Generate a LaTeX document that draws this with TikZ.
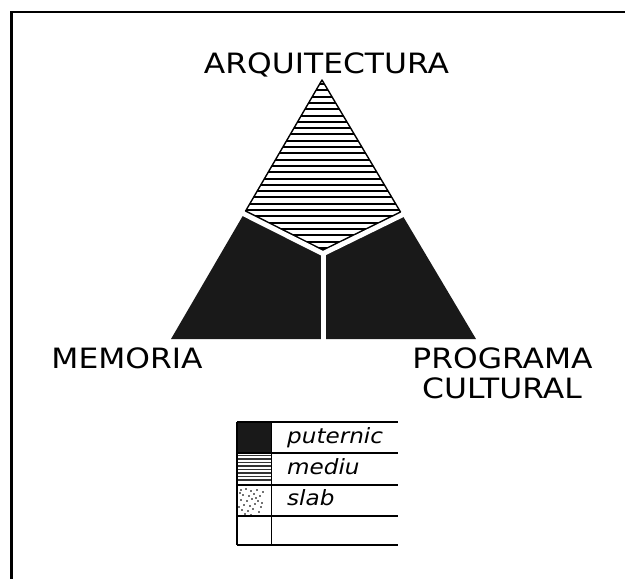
\documentclass[tikz,border=0pt]{standalone}
\usepackage{fontspec}
\setmainfont{DejaVu Sans}
\begin{document}
\begin{tikzpicture}[x=1pt,y=-1pt,
  framel/.style={line width=2.3pt},
  dark/.style={fill=black!90},
  gap/.style={white,line width=5pt,line join=round},
  kite/.style={draw=black,line width=1.4pt,line join=round},
  hatch/.style={line width=2pt},
  lbl/.style={font=\fontsize{28}{30}\selectfont, inner sep=0pt, anchor=base},
  leg/.style={font=\fontsize{21}{23}\selectfont\itshape, inner sep=0pt, anchor=base west},
  legline/.style={line width=1.6pt},
  dot/.style={fill=black!55}]
\useasboundingbox (0,0) rectangle (625,579);
\fill[white] (0,0) rectangle (625,579);
\draw[framel] (11.5,579) -- (11.5,12) -- (625,12);

% triangle
\coordinate (A) at (322,80);
\coordinate (BL) at (171,339);
\coordinate (BR) at (476,339);
\coordinate (KL) at (245.6,211);
\coordinate (KC) at (323,250);
\coordinate (KR) at (400.5,212);
\coordinate (GL) at (235.2,209.5);
\coordinate (GC) at (323,253.7);
\coordinate (GR) at (411,210.6);
\coordinate (GB) at (323,345);

\fill[dark] (A) -- (BL) -- (BR) -- cycle;
\fill[white] (A) -- (KL) -- (KC) -- (KR) -- cycle;
\begin{scope}
  \clip (A) -- (KL) -- (KC) -- (KR) -- cycle;
  \foreach \yy in {84,90.3,...,252} \draw[hatch] (240,\yy) -- (410,\yy);
\end{scope}
\draw[kite] (A) -- (KL) -- (KC) -- (KR) -- cycle;
\draw[gap] (GL) -- (GC) -- (GR);
\draw[gap] (GC) -- (GB);

% labels
\node[lbl] (arq) at (326.5,73) {\scalebox{1.12}[1]{ARQUITECTURA}};
\node[lbl] (mem) at (127,368) {\scalebox{1.12}[1]{MEMORIA}};
\node[lbl] (prog) at (502.5,368) {\scalebox{1.12}[1]{PROGRAMA}};
\node[lbl] (cult) at (502,398) {\scalebox{1.12}[1]{CULTURAL}};

% legend
\fill[black!90] (237,422) rectangle (271.5,453);
\foreach \yy in {455.5,459,...,482} \draw[line width=1.3pt,black!80] (238,\yy) -- (270.5,\yy);
\foreach \p in {(240,489),(245,488),(250,490),(256,489),(242,494),(248,495),(253,493),(259,495),(240,499),(246,500),(251,498),(257,500),(243,504),(249,505),(254,503),(260,506),(241,509),(247,510),(252,508),(258,511),(244,513),(250,514),(262,491),(239,492),(255,497),(261,502),(238,506)}
  \fill[dot] \p rectangle ++(1.6,1.6);
\foreach \yy in {422,453,485,516,545} \draw[legline] (237,\yy) -- (398,\yy);
\draw[legline] (237,422) -- (237,545);
\draw[legline] (271.5,422) -- (271.5,545);
\node[leg] (put) at (287,443) {\scalebox{1.1}[1]{puternic}};
\node[leg] (med) at (287,474) {\scalebox{1.1}[1]{mediu}};
\node[leg] (slab) at (287,505.5) {\scalebox{1.1}[1]{slab}};
\end{tikzpicture}
\end{document}
